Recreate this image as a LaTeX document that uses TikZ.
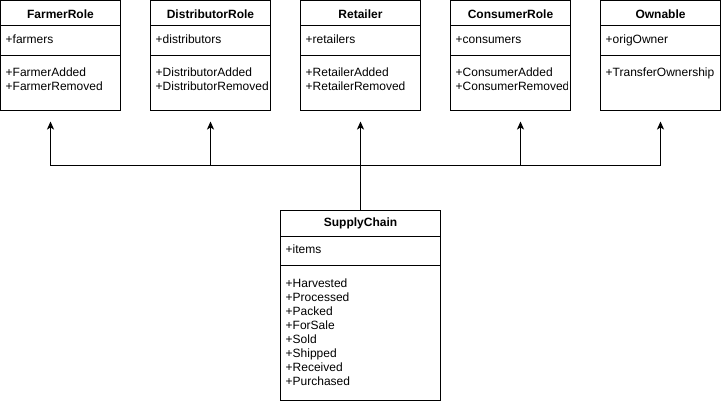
\documentclass[tikz,border=0pt]{standalone}
\usepackage{fontspec}
\setmainfont{Liberation Sans}
\usetikzlibrary{arrows.meta}
\tikzset{
  umlbox/.style={draw=black, line width=1pt, fill=white, rectangle, inner sep=0pt},
  divider/.style={draw=black, line width=1pt},
  umltitle/.style={font=\fontsize{12}{14}\selectfont\bfseries, inner sep=0pt},
  umltext/.style={font=\fontsize{12}{14}\selectfont, inner sep=0pt},
  conn/.style={draw=black, line width=1pt, -{Stealth[length=8pt,width=7pt,inset=2pt]}, shorten >=10.5pt}
}
% #1 id, #2 left x, #3 title, #4 attribute, #5 methods (comma list)
\newcommand\umlclassbox[5]{%
  \node[umlbox, minimum width=120pt, minimum height=110pt] (#1) at (#2+60,55.5) {};
  \draw[divider] ([yshift=-25.5pt]#1.north west) -- ([yshift=-25.5pt]#1.north east);
  \draw[divider] ([yshift=-55.5pt]#1.north west) -- ([yshift=-55.5pt]#1.north east);
  \begin{scope}
    \clip ([xshift=0.5pt,yshift=-0.5pt]#1.north west) rectangle ([xshift=-3.5pt,yshift=0.5pt]#1.south east);
    \node[umltitle, anchor=base] (#1-n) at ([yshift=-18.5pt]#1.north) {#3};
    \node[umltext, anchor=base west] (#1-a) at ([xshift=5.5pt,yshift=-43.5pt]#1.north west) {#4};
    \foreach \t [count=\i from 0] in {#5}
      \node[umltext, anchor=base west] (#1-m\i) at ([xshift=5.5pt,yshift={-(76.5+14*\i)*1pt}]#1.north west) {\t};
  \end{scope}
}
\begin{document}
\begin{tikzpicture}[x=1pt,y=-1pt]
\useasboundingbox[fill=white] (0,0) rectangle (721,404);

\umlclassbox{farmer}{0.5}{FarmerRole}{+farmers}{+FarmerAdded,+FarmerRemoved}
\umlclassbox{distributor}{150.5}{DistributorRole}{+distributors}{+DistributorAdded,+DistributorRemoved}
\umlclassbox{retailer}{300.5}{Retailer}{+retailers}{+RetailerAdded,+RetailerRemoved}
\umlclassbox{consumer}{450.5}{ConsumerRole}{+consumers}{+ConsumerAdded,+ConsumerRemoved}
\umlclassbox{ownable}{600.5}{Ownable}{+origOwner}{+TransferOwnership}

% SupplyChain
\node[umlbox, minimum width=160pt, minimum height=190pt] (sc) at (360.5,305.5) {};
\draw[divider] ([yshift=-26.5pt]sc.north west) -- ([yshift=-26.5pt]sc.north east);
\draw[divider] ([yshift=-55.5pt]sc.north west) -- ([yshift=-55.5pt]sc.north east);
\node[umltitle, anchor=base] (sc-n) at ([yshift=-16.5pt]sc.north) {SupplyChain};
\node[umltext, anchor=base west] (sc-a) at ([xshift=5.5pt,yshift=-43.5pt]sc.north west) {+items};
\foreach \t [count=\i from 0] in {+Harvested,+Processed,+Packed,+ForSale,+Sold,+Shipped,+Received,+Purchased}
  \node[umltext, anchor=base west] (sc-m\i) at ([xshift=5.5pt,yshift={-(77.5+14*\i)*1pt}]sc.north west) {\t};

% connectors
\coordinate (bus) at (360.5,165.5);
\draw[conn] (sc.north) -- (retailer.south);
\draw[conn] (sc.north) -- (sc.north |- bus) -| ([xshift=-10pt]farmer.south);
\draw[conn] (sc.north) -- (sc.north |- bus) -| (distributor.south);
\draw[conn] (sc.north) -- (sc.north |- bus) -| ([xshift=10pt]consumer.south);
\draw[conn] (sc.north) -- (sc.north |- bus) -| (ownable.south);
\end{tikzpicture}
\end{document}
